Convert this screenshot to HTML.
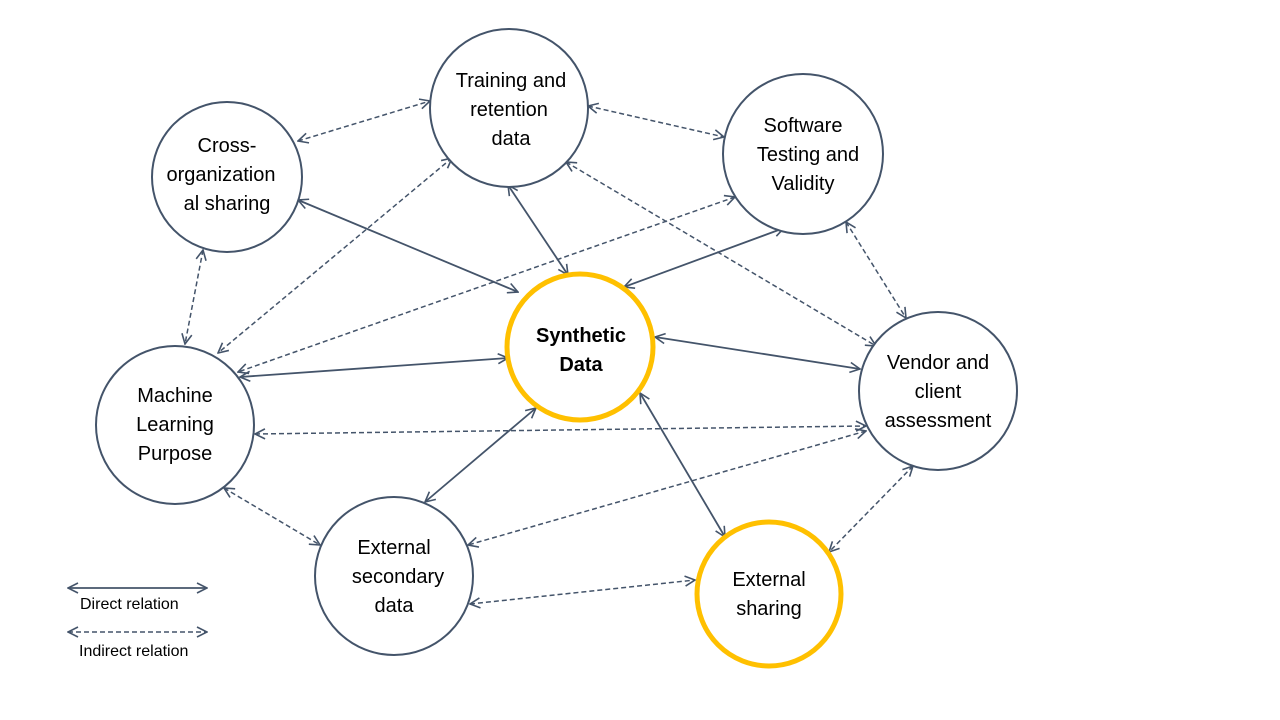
<!DOCTYPE html>
<html><head><meta charset="utf-8"><style>
html,body{margin:0;padding:0;background:#fff;width:1280px;height:720px;overflow:hidden}
svg{display:block}
text{font-family:"Liberation Sans",sans-serif;fill:#000;text-anchor:middle}
</style></head><body>
<svg width="1280" height="720" viewBox="0 0 1280 720" xmlns="http://www.w3.org/2000/svg">
<defs>
<marker id="a" viewBox="0 0 12 12" refX="11" refY="6" markerWidth="12" markerHeight="12" markerUnits="userSpaceOnUse" orient="auto-start-reverse">
<path d="M1,1 L11,6 L1,11" fill="none" stroke="#44546a" stroke-width="1.6"/>
</marker>
</defs>
<g fill="none" stroke="#44546a" stroke-width="1.8" marker-start="url(#a)" marker-end="url(#a)">
<line x1="298" y1="200" x2="518" y2="292"/>
<line x1="508" y1="185" x2="568" y2="275"/>
<line x1="784" y1="228" x2="624" y2="287"/>
<line x1="240" y1="377" x2="508" y2="358"/>
<line x1="655" y1="337" x2="860" y2="369"/>
<line x1="536" y1="408" x2="425" y2="502"/>
<line x1="640" y1="393" x2="725" y2="537"/>
<line x1="68" y1="588" x2="207" y2="588"/>
</g>
<g fill="none" stroke="#44546a" stroke-width="1.5" stroke-dasharray="5,3" marker-start="url(#a)" marker-end="url(#a)">
<line x1="298" y1="141" x2="430" y2="101"/>
<line x1="588" y1="106" x2="724" y2="137"/>
<line x1="203" y1="250" x2="185" y2="344"/>
<line x1="452" y1="158" x2="218" y2="353"/>
<line x1="735" y1="197" x2="238" y2="372"/>
<line x1="566" y1="162" x2="876" y2="346"/>
<line x1="846" y1="222" x2="906" y2="318"/>
<line x1="255" y1="434" x2="866" y2="426"/>
<line x1="866" y1="431" x2="468" y2="545"/>
<line x1="913" y1="466" x2="829" y2="552"/>
<line x1="224" y1="488" x2="320" y2="545"/>
<line x1="470" y1="604" x2="695" y2="580"/>
<line x1="68" y1="632" x2="207" y2="632"/>
</g>
<g fill="#fff" stroke="#44546a" stroke-width="2">
<circle cx="509" cy="108" r="79"/>
<circle cx="227" cy="177" r="75"/>
<circle cx="803" cy="154" r="80"/>
<circle cx="175" cy="425" r="79"/>
<circle cx="938" cy="391" r="79"/>
<circle cx="394" cy="576" r="79"/>
</g>
<g fill="#fff" stroke="#ffc000" stroke-width="5">
<circle cx="580" cy="347" r="73"/>
<circle cx="769" cy="594" r="72"/>
</g>
<g font-size="20">
<text x="511" y="87">Training and</text><text x="509" y="116">retention</text><text x="511" y="145">data</text>
<text x="227" y="152">Cross-</text><text x="221" y="181">organization</text><text x="227" y="210">al sharing</text>
<text x="803" y="132">Software</text><text x="808" y="161">Testing and</text><text x="803" y="190">Validity</text>
<text x="175" y="402">Machine</text><text x="175" y="431">Learning</text><text x="175" y="460">Purpose</text>
<text x="938" y="369">Vendor and</text><text x="938" y="398">client</text><text x="938" y="427">assessment</text>
<text x="394" y="554">External</text><text x="398" y="583">secondary</text><text x="394" y="612">data</text>
<text x="769" y="586">External</text><text x="769" y="615">sharing</text>
<text x="581" y="342" font-weight="bold">Synthetic</text><text x="581" y="371" font-weight="bold">Data</text>
</g>
<g font-size="16" style="text-anchor:start">
<text x="80" y="609" style="text-anchor:start">Direct relation</text>
<text x="79" y="656" style="text-anchor:start">Indirect relation</text>
</g>
</svg>
</body></html>
